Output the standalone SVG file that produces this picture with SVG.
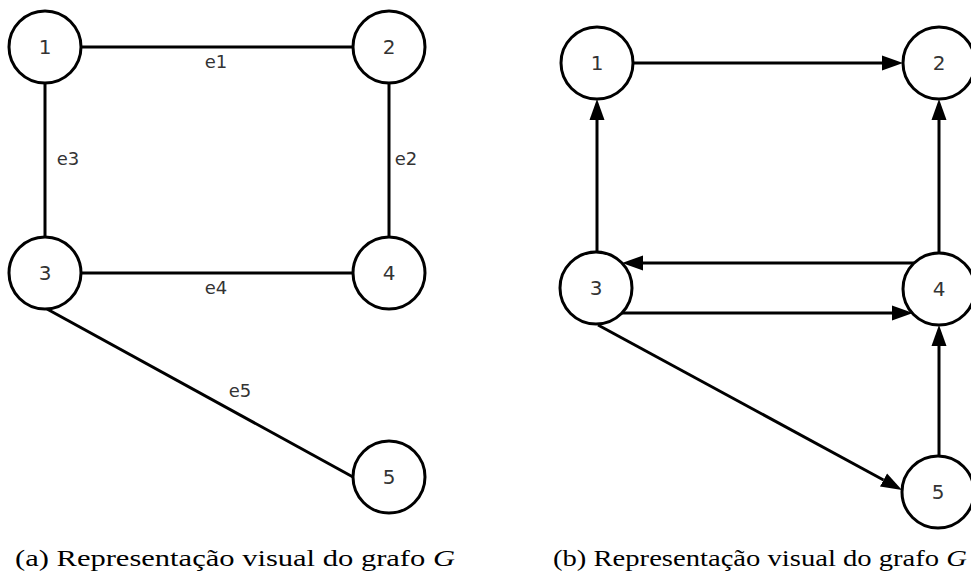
<svg xmlns="http://www.w3.org/2000/svg" width="971" height="574" viewBox="0 0 971 574">
<style>
.n circle{fill:#fff;stroke:#000;stroke-width:3}
.n text{font-family:"DejaVu Sans",sans-serif;font-size:20px;fill:#333;text-anchor:middle}
.e line{stroke:#000;stroke-width:3}
.lbl{font-family:"DejaVu Sans",sans-serif;font-size:18px;fill:#333;text-anchor:middle}
.cap{font-family:"Liberation Serif",serif;font-size:24px;fill:#000}
</style>
<defs>
<marker id="ah" markerUnits="userSpaceOnUse" markerWidth="22" markerHeight="16" viewBox="0 -8 22 16" refX="0" refY="0" orient="auto">
<path d="M0,-7.5 L21,0 L0,7.5 z" fill="#000"/>
</marker>
</defs>
<g id="edges-a" class="e">
<line x1="81" y1="47" x2="353" y2="47"/>
<line x1="45" y1="83" x2="45" y2="237"/>
<line x1="389" y1="83" x2="389" y2="237"/>
<line x1="81" y1="273" x2="353" y2="273"/>
<line x1="47" y1="309" x2="353" y2="477"/>
</g>
<g id="labels-a">
<text class="lbl" x="216" y="68">e1</text>
<text class="lbl" x="68" y="165">e3</text>
<text class="lbl" x="406" y="165">e2</text>
<text class="lbl" x="216" y="294">e4</text>
<text class="lbl" x="240" y="397">e5</text>
</g>
<g id="a1" class="n"><circle cx="45" cy="47" r="36"/><text x="45" y="54">1</text></g>
<g id="a2" class="n"><circle cx="389" cy="47" r="36"/><text x="389" y="54">2</text></g>
<g id="a3" class="n"><circle cx="45" cy="273" r="36"/><text x="45" y="280">3</text></g>
<g id="a4" class="n"><circle cx="389" cy="273" r="36"/><text x="389" y="280">4</text></g>
<g id="a5" class="n"><circle cx="389" cy="477" r="36"/><text x="389" y="484">5</text></g>
<g id="edges-b" class="e">
<line x1="633" y1="63" x2="882" y2="63" marker-end="url(#ah)"/>
<line x1="597" y1="252" x2="597" y2="120" marker-end="url(#ah)"/>
<line x1="939" y1="253" x2="939" y2="120" marker-end="url(#ah)"/>
<line x1="914" y1="263" x2="643" y2="263" marker-end="url(#ah)"/>
<line x1="622" y1="313" x2="892" y2="313" marker-end="url(#ah)"/>
<line x1="598" y1="325" x2="883.5" y2="480" marker-end="url(#ah)"/>
<line x1="939" y1="456" x2="939" y2="346" marker-end="url(#ah)"/>
</g>
<g id="b1" class="n"><circle cx="597" cy="63" r="36"/><text x="597" y="70">1</text></g>
<g id="b2" class="n"><circle cx="939" cy="63" r="36"/><text x="939" y="70">2</text></g>
<g id="b3" class="n"><circle cx="596" cy="288" r="36"/><text x="596" y="295">3</text></g>
<g id="b4" class="n"><circle cx="939" cy="289" r="36"/><text x="939" y="296">4</text></g>
<g id="b5" class="n"><circle cx="938" cy="492" r="36"/><text x="938" y="499">5</text></g>
<text class="cap" x="15" y="566" textLength="440" lengthAdjust="spacingAndGlyphs">(a) Representação visual do grafo <tspan font-style="italic">G</tspan></text>
<text class="cap" x="553" y="566" textLength="414" lengthAdjust="spacingAndGlyphs">(b) Representação visual do grafo <tspan font-style="italic">G</tspan></text>
</svg>
